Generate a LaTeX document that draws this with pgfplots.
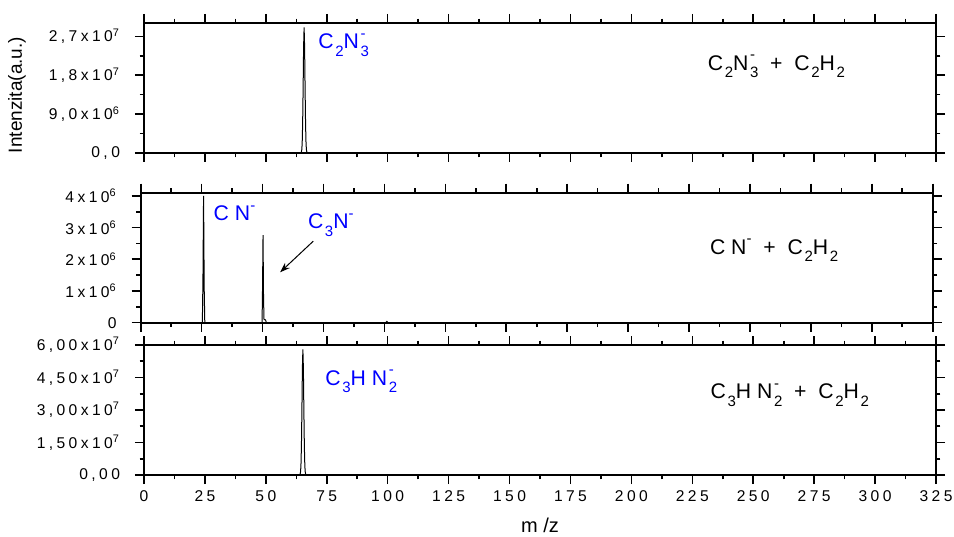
\documentclass[border=0pt]{standalone}
\usepackage{pgfplots}
\pgfplotsset{compat=1.18}
\usepackage{fontspec}
\setmainfont{Liberation Sans}
\newfontfamily\lsfam{Liberation Sans}[LetterSpace=22]
\newfontfamily\lbfam{Liberation Sans}[LetterSpace=28]
\usetikzlibrary{arrows.meta}
\definecolor{lblue}{RGB}{0,0,255}
\newcommand\tickfont{\lsfam\fontsize{7.8bp}{9bp}\selectfont}
\newcommand\labfont{\lbfam\fontsize{10.6bp}{11bp}\selectfont}
\newcommand\sbs[1]{\kern0.8bp\raisebox{-0.65ex}{\fontsize{7.5bp}{8bp}\selectfont #1}}
\newcommand\sps[1]{\raisebox{0.95ex}{\fontsize{7.5bp}{8bp}\selectfont #1}}
\newcommand\sbsp[2]{\makebox[0pt][l]{\kern0.8bp\sps{#1}}\sbs{#2}}
\newcommand\ex[1]{x10\textsuperscript{#1}}

\pgfplotsset{
  panel/.style={
    scale only axis, width=396bp, height=65bp,
    xmin=0, xmax=325, xtick={0,25,...,325}, minor x tick num=1,
    minor y tick num=1,
    scaled ticks=false,
    tick align=outside, major tick length=4.5bp, minor tick length=2.2bp,
    axis line style={line width=0.9bp},
    every tick/.style={line width=0.8bp, black},
    ticklabel style={font=\tickfont},
    yticklabel style={xshift=-4bp},
    anchor=south west,
  },
  spec/.style={black, line width=0.5bp, mark=none},
}
\tikzset{blab/.style={anchor=west, inner sep=0pt, text=lblue, font=\labfont}}

\begin{document}
\begin{tikzpicture}
\path[use as bounding box] (0,0) rectangle (477bp,268.5bp);

% ---------- top panel ----------
\begin{axis}[panel, at={(72bp,192bp)},
  ymin=0, ymax=3.01e7,
  ytick={0,9e6,1.8e7,2.7e7},
  yticklabels={{0,0},{9,0\ex{6}},{1,8\ex{7}},{2,7\ex{7}}},
  xticklabel=\empty]
\addplot[spec] coordinates {
 (0,0) (64.2,0) (64.5,1.5e5) (64.7,5e5) (64.9,2.0e6) (65.1,6.7e6) (65.3,1.51e7)
 (65.5,2.47e7) (65.7,2.91e7) (65.9,2.47e7) (66.1,1.51e7) (66.3,6.7e6)
 (66.5,2.0e6) (66.7,5e5) (66.9,1.5e5) (67.2,0) (325,0)};
\node[blab] at (axis cs:71.4,2.5e7) {C\sbs{2}N\sbsp{-}{3}};
\node[font=\labfont] at (axis cs:259.5,2.0e7)
  {C\sbs{2}N\sbsp{-}{3} + C\sbs{2}H\sbs{2}};
\end{axis}

% ---------- middle panel ----------
\begin{axis}[panel, at={(70.35bp,107.15bp)},
  ymin=0, ymax=4.1e6,
  ytick={0,1e6,2e6,3e6,4e6},
  yticklabels={0,1\ex{6},2\ex{6},3\ex{6},4\ex{6}},
  xticklabel=\empty]
\addplot[spec] coordinates {
 (0,0) (25.3,0) (25.55,1.4e6) (25.8,4.0e6) (26.05,1.1e6) (26.3,0)
 (49.8,0) (50.0,1.1e6) (50.2,2.76e6) (50.4,0.8e6) (50.6,1.0e5) (51.2,9e4) (51.6,0)
 (100.5,0) (101,4e4) (101.5,0) (325,0)};
\node[blab] at (axis cs:29.8,3.45e6) {CN\sps{-}};
\node[blab] at (axis cs:68.5,3.08e6) {C\sbs{3}N\sps{-}};
\draw[-{Stealth[length=5bp,width=3.5bp]}, line width=0.5bp] (axis cs:70.8,2.57e6) -- (axis cs:57.2,1.59e6);
\node[font=\labfont] at (axis cs:259.9,2.29e6)
  {CN\sps{-} + C\sbs{2}H\sbs{2}};
\end{axis}

% ---------- bottom panel ----------
\begin{axis}[panel, at={(72bp,31bp)},
  ymin=0, ymax=6e7,
  ytick={0,1.5e7,3e7,4.5e7,6e7},
  yticklabels={{0,00},{1,50\ex{7}},{3,00\ex{7}},{4,50\ex{7}},{6,00\ex{7}}},
  xticklabels={0,25,50,75,100,125,150,175,200,225,250,275,300,325}]
\addplot[spec] coordinates {
 (0,0) (63.6,0) (64.0,3e5) (64.2,1.0e6) (64.4,4.1e6) (64.6,1.33e7) (64.8,3.02e7)
 (65.0,4.93e7) (65.2,5.8e7) (65.4,4.93e7) (65.6,3.02e7) (65.8,1.33e7)
 (66.0,4.1e6) (66.2,1.0e6) (66.4,3e5) (66.8,0) (325,0)};
\node[blab] at (axis cs:74.3,4.31e7) {C\sbs{3}HN\sbsp{-}{2}};
\node[font=\labfont] at (axis cs:265,3.69e7)
  {C\sbs{3}HN\sbsp{-}{2} + C\sbs{2}H\sbs{2}};
\end{axis}

\node[rotate=90, font=\fontsize{9.5bp}{11bp}\selectfont] at (8.5bp,221bp) {Intenzita(a.u.)};
\node[anchor=base, font=\fontsize{10bp}{11bp}\selectfont] at (270bp,2.5bp) {m /z};
\end{tikzpicture}
\end{document}
